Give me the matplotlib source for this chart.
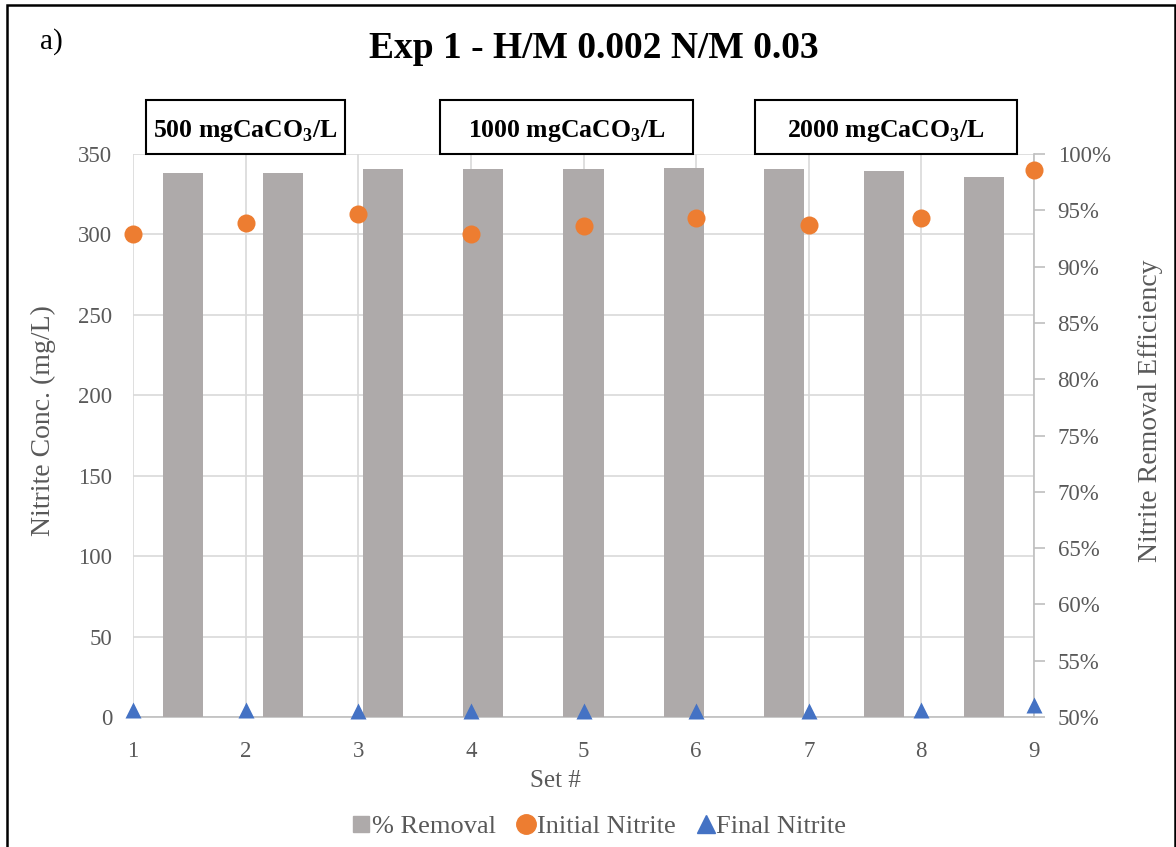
import matplotlib
matplotlib.use("Agg")
import matplotlib.pyplot as plt
import numpy as np
from matplotlib.lines import Line2D
from matplotlib.patches import Rectangle
from matplotlib.ticker import PercentFormatter, MultipleLocator

# data
sets = [1, 2, 3, 4, 5, 6, 7, 8, 9]
removal_pct = [98.3, 98.35, 98.7, 98.65, 98.7, 98.75, 98.7, 98.5, 98.0]
initial_nitrite = [300, 307, 313, 300, 305, 310, 306, 310, 340]
final_nitrite = [4.5, 4.5, 3.5, 3.5, 3.5, 3.5, 3.5, 4.5, 7.5]
alkalinity_labels = ["500", "1000", "2000"]

plt.rcParams["font.family"] = ["Liberation Serif", "DejaVu Serif"]
plt.rcParams["mathtext.fontset"] = "custom"
plt.rcParams["mathtext.rm"] = "Liberation Serif"
plt.rcParams["mathtext.bf"] = "Liberation Serif:bold"

GRAY_TXT = "#595959"
GRID = "#D9D9D9"
AXLINE = "#BFBFBF"
BAR_C = "#AEAAAA"
ORANGE = "#ED7D31"
BLUE = "#4472C4"

W, H = 1176, 847
fig = plt.figure(figsize=(W / 100, H / 100), dpi=100)


def px(x0, y0, x1, y1):
    # pixel box -> figure rect
    return [x0 / W, 1 - y1 / H, (x1 - x0) / W, (y1 - y0) / H]


rect = px(133, 154, 1034, 717)
ax = fig.add_axes(rect)
ax.set_xlim(1, 9)
ax.set_ylim(0, 350)
ax.yaxis.set_major_locator(MultipleLocator(50))
ax.set_xticks(sets)
ax.grid(True, color=GRID, lw=1.2)
for s in ["left", "top", "right"]:
    ax.spines[s].set_visible(False)
ax.spines["bottom"].set_color(AXLINE)
ax.spines["bottom"].set_linewidth(1.2)
ax.tick_params(axis="both", length=0, labelsize=16.5, labelcolor=GRAY_TXT)
ax.tick_params(axis="y", pad=15)
ax.tick_params(axis="x", pad=17)
ax.set_xlabel("Set #", fontsize=18, color=GRAY_TXT)
ax.xaxis.set_label_coords(0.469, -0.095)
ax.set_ylabel("Nitrite Conc. (mg/L)", fontsize=20, color=GRAY_TXT)
ax.yaxis.set_label_coords(-0.085, 0.527)

# right percent axis
axr = ax.twinx()
axr.set_ylim(50, 100)
axr.yaxis.set_major_locator(MultipleLocator(5))
axr.yaxis.set_major_formatter(PercentFormatter(decimals=0))
for s in ["left", "top", "bottom"]:
    axr.spines[s].set_visible(False)
axr.spines["right"].set_color(AXLINE)
axr.spines["right"].set_linewidth(1.2)
axr.tick_params(axis="y", length=8, width=1.2, color=AXLINE, pad=9,
                labelsize=16.5, labelcolor=GRAY_TXT)
axr.set_ylabel("Nitrite Removal Efficiency", fontsize=20, color=GRAY_TXT, rotation=90)
axr.yaxis.set_label_coords(1.115, 0.544)

# bars sit on their own category axis (like Excel's secondary axis)
axbar = axr.twiny()
axbar.set_xlim(0, len(sets))
axbar.bar(np.arange(len(sets)) + 0.5, removal_pct, width=0.4, color=BAR_C)
axbar.xaxis.set_visible(False)
for s in axbar.spines.values():
    s.set_visible(False)

# points on top
axp = fig.add_axes(rect, sharex=ax, sharey=ax)
axp.axis("off")
axp.plot(sets, initial_nitrite, "o", color=ORANGE, ms=13, mec="none", clip_on=False)
axp.plot(sets, final_nitrite, "^", color=BLUE, ms=11, mec="none", clip_on=False)

ax.set_zorder(0)
axr.set_zorder(1)
axbar.set_zorder(2)
axp.set_zorder(3)
for a in (axr, axbar, axp):
    a.patch.set_visible(False)

# title and panel letter
fig.text(594 / W, 1 - 58 / H, "Exp 1 - H/M 0.002 N/M 0.03", ha="center", va="baseline",
         fontsize=27, fontweight="bold")
fig.text(40 / W, 1 - 49 / H, "a)", ha="left", va="baseline", fontsize=21)

# alkalinity boxes
boxes = [(146, 345), (440, 693), (755, 1017)]
for (x0, x1), lab in zip(boxes, alkalinity_labels):
    fig.add_artist(Rectangle((x0 / W, 1 - 154 / H), (x1 - x0) / W, 54 / H,
                             transform=fig.transFigure, fill=True, fc="white",
                             ec="black", lw=1.5))
    fig.text((x0 + x1) / 2 / W, 1 - 137 / H, lab + r" mgCaCO$_\mathbf{3}$/L",
             ha="center", va="baseline", fontsize=18.5, fontweight="bold")

# outer frame
fig.add_artist(Rectangle((7 / W, -0.02), (1175 - 7) / W, 1.02 - 5 / H,
                         transform=fig.transFigure, fill=False, ec="black", lw=1.8))

handles = [
    Line2D([], [], ls="none", marker="s", color=BAR_C, ms=11),
    Line2D([], [], ls="none", marker="o", color=ORANGE, ms=14),
    Line2D([], [], ls="none", marker="^", color=BLUE, ms=13),
]
leg = fig.legend(handles, ["% Removal", "Initial Nitrite", "Final Nitrite"], ncol=3,
                 loc="center", bbox_to_anchor=(599 / W, 1 - 826 / H), frameon=False,
                 fontsize=19, handlelength=0.7, handletextpad=0.05, columnspacing=0.8)
for t in leg.get_texts():
    t.set_color(GRAY_TXT)

fig.savefig("out.png", dpi=100)
